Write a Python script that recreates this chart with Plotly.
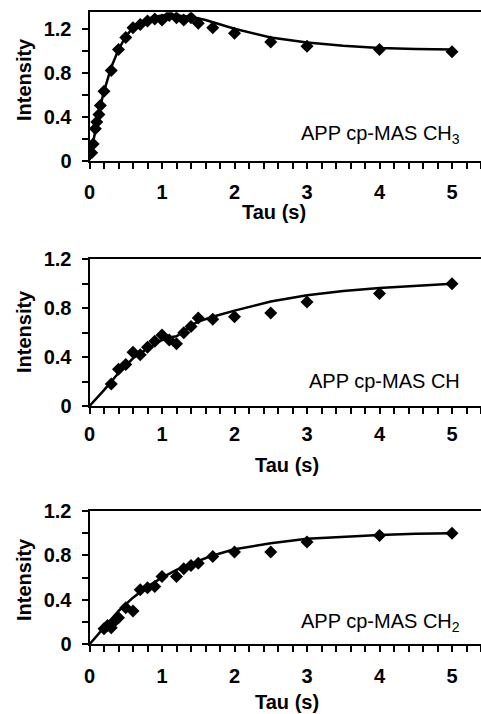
import plotly.graph_objects as go

# ---- data ----
ch3_tau = [0.03, 0.05, 0.08, 0.1, 0.13, 0.15, 0.2, 0.3, 0.4, 0.5, 0.6, 0.7, 0.8, 0.9, 1.0, 1.1, 1.2, 1.3, 1.4, 1.5, 1.7, 2.0, 2.5, 3.0, 4.0, 5.0]
ch3_int = [0.07, 0.15, 0.29, 0.35, 0.42, 0.50, 0.63, 0.82, 1.01, 1.12, 1.21, 1.24, 1.27, 1.29, 1.28, 1.32, 1.30, 1.28, 1.30, 1.25, 1.21, 1.16, 1.08, 1.04, 1.01, 0.99]
ch3_fit_tau = [0.0, 0.05, 0.1, 0.15, 0.2, 0.3, 0.4, 0.5, 0.6, 0.7, 0.8, 0.9, 1.0, 1.1, 1.2, 1.4, 1.6, 1.8, 2.0, 2.5, 3.0, 3.5, 4.0, 4.5, 5.0]
ch3_fit_int = [0.0, 0.17, 0.35, 0.50, 0.63, 0.85, 1.01, 1.13, 1.21, 1.26, 1.29, 1.31, 1.32, 1.325, 1.32, 1.31, 1.28, 1.24, 1.20, 1.12, 1.075, 1.045, 1.025, 1.015, 1.01]

ch_tau = [0.3, 0.4, 0.5, 0.6, 0.7, 0.8, 0.9, 1.0, 1.1, 1.2, 1.3, 1.4, 1.5, 1.7, 2.0, 2.5, 3.0, 4.0, 5.0]
ch_int = [0.18, 0.30, 0.34, 0.44, 0.42, 0.48, 0.53, 0.58, 0.54, 0.51, 0.60, 0.65, 0.72, 0.71, 0.73, 0.76, 0.85, 0.92, 1.00]
ch_fit_tau = [0.0, 0.2, 0.4, 0.6, 0.8, 1.0, 1.1, 1.2, 1.3, 1.4, 1.5, 1.7, 2.0, 2.5, 3.0, 3.5, 4.0, 4.5, 5.0]
ch_fit_int = [0.0, 0.13, 0.27, 0.39, 0.47, 0.54, 0.56, 0.57, 0.61, 0.66, 0.69, 0.73, 0.78, 0.855, 0.905, 0.94, 0.965, 0.985, 1.0]

ch2_tau = [0.2, 0.25, 0.3, 0.35, 0.4, 0.5, 0.6, 0.7, 0.8, 0.9, 1.0, 1.2, 1.3, 1.4, 1.5, 1.7, 2.0, 2.5, 3.0, 4.0, 5.0]
ch2_int = [0.14, 0.17, 0.15, 0.21, 0.24, 0.33, 0.30, 0.49, 0.51, 0.52, 0.61, 0.61, 0.68, 0.71, 0.73, 0.79, 0.83, 0.83, 0.92, 0.98, 1.00]
ch2_fit_tau = [0.0, 0.2, 0.4, 0.6, 0.8, 1.0, 1.2, 1.5, 1.7, 2.0, 2.5, 3.0, 3.5, 4.0, 4.5, 5.0]
ch2_fit_int = [0.0, 0.15, 0.30, 0.42, 0.52, 0.60, 0.67, 0.75, 0.80, 0.855, 0.91, 0.95, 0.97, 0.985, 0.995, 1.0]

panel_labels = ["APP cp-MAS CH<sub>3</sub>", "APP cp-MAS CH", "APP cp-MAS CH<sub>2</sub>"]
x_ticks = [0, 1, 2, 3, 4, 5]
y_ticks = [0, 0.4, 0.8, 1.2]
y_tick_text = ["0", "0.4", "0.8", "1.2"]

W, H = 481, 714
FONT = "Liberation Sans, Arial, Helvetica, sans-serif"

def py(p):  # pixel row -> paper fraction
    return 1 - p / H

def px(p):
    return p / W

# panel geometry (pixel rows of y=0 and top)
panels = [
    dict(y0=160.5, ytop=12.3, ymax=1.35, label_y=134, title_x=274, title_y=212, ytitle_c=80, xstand=6),
    dict(y0=406.0, ytop=259.3, ymax=1.2, label_y=381, title_x=287, title_y=465, ytitle_c=332, xstand=3),
    dict(y0=644.3, ytop=511.0, ymax=1.2, label_y=622, title_x=287, title_y=702, ytitle_c=580, xstand=7),
]
series = [
    (ch3_tau, ch3_int, ch3_fit_tau, ch3_fit_int),
    (ch_tau, ch_int, ch_fit_tau, ch_fit_int),
    (ch2_tau, ch2_int, ch2_fit_tau, ch2_fit_int),
]

fig = go.Figure()
annotations = []
x_left = 89.5

for i, (p, s) in enumerate(zip(panels, series)):
    n = "" if i == 0 else str(i + 1)
    xa, ya = "x" + n, "y" + n
    t, v, ft, fv = s
    fig.add_trace(go.Scatter(x=ft, y=fv, mode="lines", xaxis=xa, yaxis=ya,
                             line=dict(color="black", width=2.5), showlegend=False,
                             hoverinfo="skip"))
    fig.add_trace(go.Scatter(x=t, y=v, mode="markers", xaxis=xa, yaxis=ya,
                             marker=dict(symbol="diamond", size=10, color="black",
                                         line=dict(width=0)),
                             showlegend=False))
    axis_common = dict(showgrid=False, zeroline=False, showline=True,
                       linecolor="black", linewidth=2, ticks="outside",
                       ticklen=6, tickwidth=1.6, tickcolor="black",
                       tickfont=dict(family=FONT, size=20, color="black", weight="bold"),
                       automargin=False, fixedrange=True)
    fig.layout["xaxis" + n] = dict(
        axis_common, domain=[px(x_left), 1.0], range=[0, 5.4],
        anchor=ya, tickvals=x_ticks, mirror=True, ticklabelstandoff=p["xstand"],
        minor=dict(dtick=0.2, tick0=0, ticks="outside", ticklen=6,
                   tickwidth=1.6, tickcolor="black", showgrid=False))
    fig.layout["yaxis" + n] = dict(
        axis_common, domain=[py(p["y0"]), py(p["ytop"])], range=[0, p["ymax"]],
        anchor=xa, tickvals=y_ticks, ticktext=y_tick_text,
        ticklabelstandoff=6,
        minor=dict(dtick=0.2, tick0=0, ticks="outside", ticklen=6,
                   tickwidth=1.6, tickcolor="black", showgrid=False))
    annotations.append(dict(text=panel_labels[i], xref="paper", yref="paper",
                            x=px(462), y=py(p["label_y"]), xanchor="right",
                            yanchor="middle", showarrow=False,
                            font=dict(family=FONT, size=20, color="black")))
    annotations.append(dict(text="Tau (s)", xref="paper", yref="paper",
                            x=px(p["title_x"]), y=py(p["title_y"]), xanchor="center",
                            yanchor="middle", showarrow=False,
                            font=dict(family=FONT, size=20, color="black", weight="bold")))
    annotations.append(dict(text="Intensity", xref="paper", yref="paper",
                            x=px(24), y=py(p["ytitle_c"]), xanchor="center",
                            yanchor="middle", textangle=-90, showarrow=False,
                            font=dict(family=FONT, size=20, color="black", weight="bold")))

fig.update_layout(width=W, height=H, margin=dict(l=0, r=0, t=0, b=0),
                  paper_bgcolor="white", plot_bgcolor="white",
                  annotations=annotations, showlegend=False)

fig.write_html("out.html", config={"displayModeBar": False},
               post_script="document.body.style.margin='0';document.body.style.padding='0';")
